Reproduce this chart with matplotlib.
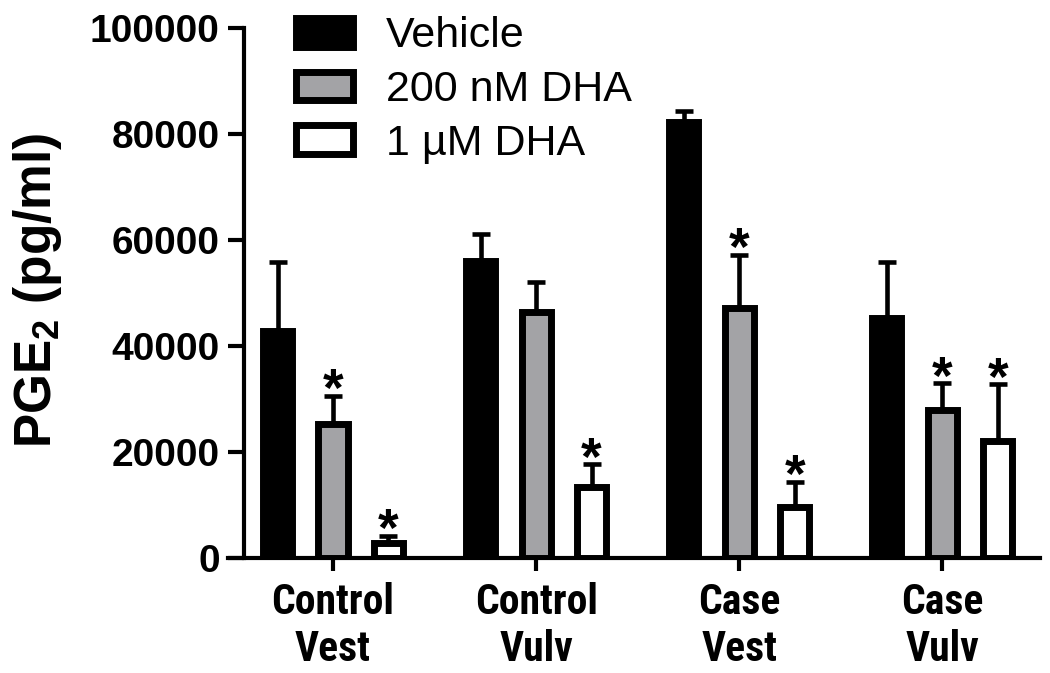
import matplotlib
matplotlib.use('Agg')
import matplotlib.pyplot as plt
import numpy as np

# data
groups = ['Control\nVest', 'Control\nVulv', 'Case\nVest', 'Case\nVulv']
series = ['Vehicle', '200 nM DHA', '1 µM DHA']
vehicle = [42800, 56000, 82200, 45300]
vehicle_err = [13100, 5100, 2100, 10500]
dha200 = [25200, 46400, 47200, 27900]
dha200_err = [5400, 5600, 10000, 5100]
dha1 = [2800, 13400, 9700, 22100]
dha1_err = [1400, 4300, 4700, 10700]
# significance stars (series index, group index)
stars = [(1, 0), (2, 0), (2, 1), (1, 2), (2, 2), (1, 3), (2, 3)]

fills = ['black', '#a3a3a6', 'white']
means = [vehicle, dha200, dha1]
errs = [vehicle_err, dha200_err, dha1_err]

plt.rcParams['font.family'] = ['Liberation Sans', 'DejaVu Sans']
plt.rcParams['mathtext.default'] = 'regular'
narrow = ['Roboto Condensed', 'PT Sans Narrow', 'Archivo Narrow', 'Liberation Sans']

fig = plt.figure(figsize=(10.5, 6.73), dpi=100)
ax = fig.add_axes([0.2324, 0.1709, 0.7576, 0.7875])

x = np.arange(len(groups))
step = 0.273
width = 0.143
for i, (m, e) in enumerate(zip(means, errs)):
    pos = x + (i - 1) * step
    ax.bar(pos, m, width, color=fills[i], edgecolor='black', linewidth=5,
           label=series[i], zorder=2)
    ax.errorbar(pos, m, yerr=[np.zeros(len(e)), e], fmt='none', ecolor='black',
                elinewidth=3.3, capsize=6.3, capthick=3.3, zorder=1)

for s, g in stars:
    top = means[s][g] + errs[s][g]
    ax.annotate('*', (x[g] + (s - 1) * step, top), xytext=(0, -15.5),
                textcoords='offset points', ha='center', va='bottom',
                fontsize=38, fontweight='bold')

ax.set_xlim(-0.438, 3.478)
ax.set_ylim(0, 100000)
ax.set_yticks([0, 20000, 40000, 60000, 80000, 100000])
ax.set_xticks(x)
ax.set_xticklabels(groups, fontsize=30, fontweight='bold', linespacing=1.17,
                   family=narrow)
ax.tick_params(axis='y', labelsize=28, length=11.5, width=3, pad=6)
ax.tick_params(axis='x', length=9.5, width=3, pad=8)
for lab in ax.get_yticklabels():
    lab.set_fontweight('bold')

ax.set_ylabel('PGE$_2$ (pg/ml)', fontsize=37, fontweight='bold')
ax.yaxis.set_label_coords(-0.226, 0.506)

for side in ['top', 'right']:
    ax.spines[side].set_visible(False)
ax.spines['left'].set_linewidth(3)
ax.spines['bottom'].set_linewidth(3)
ax.spines['bottom'].set_bounds(-0.516, 3.478)

ax.legend(loc='upper left', bbox_to_anchor=(0.065, 1.022), frameon=False,
          fontsize=31, borderaxespad=0, borderpad=0, handlelength=1.32,
          handleheight=0.65, handletextpad=0.78, labelspacing=0.32)

fig.savefig('out.png', dpi=100)
